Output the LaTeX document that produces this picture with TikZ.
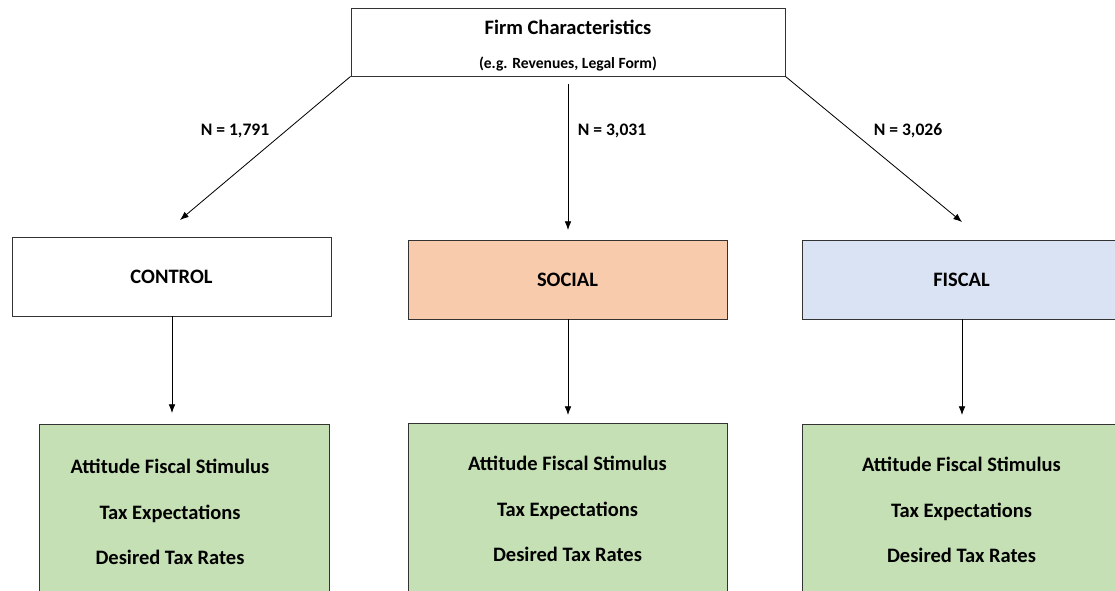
\documentclass[tikz,border=0pt]{standalone}
\usepackage{fontspec}
\setmainfont{Carlito}
\usepackage{tikz}
\usetikzlibrary{arrows.meta,positioning}
\definecolor{socialfill}{HTML}{F8CBAD}
\definecolor{fiscalfill}{HTML}{DAE3F3}
\definecolor{outfill}{HTML}{C5E0B4}
\tikzset{
    box/.style={draw=black!80,line width=0.8pt,rectangle,inner sep=0pt,minimum width=9.57cm,minimum height=2.37cm,font=\bfseries\fontsize{17.5}{21}\selectfont},
    outbox/.style={box,fill=outfill,minimum height=5.16cm,align=center,font=\bfseries\fontsize{17.5}{39}\selectfont},
    arr/.style={-{Latex[length=2.6mm,width=2mm]},line width=0.7pt},
    nlab/.style={font=\bfseries\fontsize{15}{18}\selectfont}
}
\newcommand{\outlines}{Attitude Fiscal Stimulus\\Tax Expectations\\Desired Tax Rates}

\begin{document}
\begin{tikzpicture}[x=0.03cm,y=-0.03cm]
    \useasboundingbox (0,0) rectangle (1115,591);
    % top box
    \node[box,minimum width=13.02cm,minimum height=2.04cm,align=center] (firm) at (568,42)
        {\rule{0pt}{18.5pt}Firm Characteristics\\[8.5pt]{\fontsize{13.3}{16}\selectfont (e.g. Revenues, Legal Form)}};
    % treatment groups
    \node[box] (control) at (171.5,276.5) {CONTROL};
    \node[box,fill=socialfill] (social) at (567.5,279.5) {SOCIAL};
    \node[box,fill=fiscalfill] (fiscal) at (961.5,279.5) {FISCAL};
    % outcomes
    \node[outbox,minimum width=8.7cm] (outc) at (184,510)
        {\begin{tabular}{@{}c@{}}\outlines\end{tabular}\hspace*{0.84cm}};
    \node[outbox] (outs) at (567.5,509) {\outlines};
    \node[outbox] (outf) at (961.5,510) {\outlines};
    % arrow ends
    \coordinate (tc) at (180,220);
    \coordinate (ms) at (568,84);
    \coordinate (ts) at (568,230);
    \coordinate (tf) at (962,222);
    \coordinate (oc) at (172,413);
    \coordinate (os) at (568,415);
    \coordinate (of) at (962,415);
    \draw[arr] (firm.south west) -- (tc);
    \draw[arr] (ms) -- (ts);
    \draw[arr] (firm.south east) -- (tf);
    \draw[arr] (control.south -| oc) -- (oc);
    \draw[arr] (social.south -| os) -- (os);
    \draw[arr] (fiscal.south -| of) -- (of);
    % sample sizes
    \node[nlab] (nc) at (235,131) {N = 1,791};
    \node[nlab] (ns) at (612,131) {N = 3,031};
    \node[nlab] (nf) at (908,131) {N = 3,026};
\end{tikzpicture}
\end{document}
